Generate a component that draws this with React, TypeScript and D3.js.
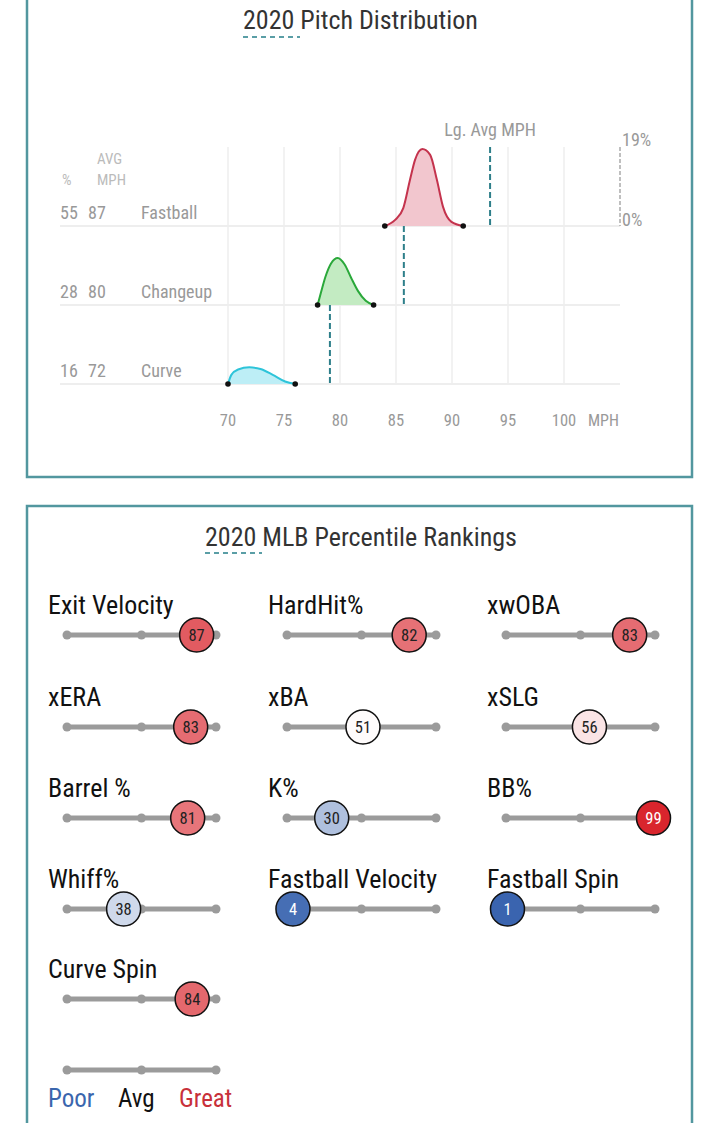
import React from "react";
import * as d3 from "d3";

// ---------- Pitch distribution data ----------
const pitchNames = ["Fastball", "Changeup", "Curve"];
const pitchPct = [55, 28, 16];
const pitchAvgMph = [87, 80, 72];
const lgAvgMph = [93.4, 85.7, 79.1];
const fastballDensity: [number, number][] = [
  [84, 0], [84.9, 1.4], [85.65, 4.3], [86.25, 11.1], [86.7, 15.9], [87.35, 18.5],
  [88.05, 17.1], [88.65, 11.1], [89.2, 4.6], [89.95, 1.0], [91, 0],
];
const changeupDensity: [number, number][] = [
  [78, 0], [78.3, 3], [78.7, 6.8], [79.2, 10], [79.8, 11.3], [80.4, 9.8],
  [81, 6.5], [81.6, 3.4], [82.3, 1], [83, 0],
];
const curveDensity: [number, number][] = [
  [70, 0], [70.3, 2.2], [70.9, 3.5], [71.9, 4.0], [72.9, 3.6], [74, 2.2], [75.1, 0.6], [76, 0],
];
const densities = [fastballDensity, changeupDensity, curveDensity];
const pitchStroke = ["#c4334d", "#2aa83a", "#2ec4d9"];
const pitchFill = ["#f2c6ce", "#c3ebc2", "#bdeef6"];
const mphTicks = [70, 75, 80, 85, 90, 95, 100];
const maxPct = 19;

// ---------- Percentile data ----------
const metricNames = [
  "Exit Velocity", "HardHit%", "xwOBA",
  "xERA", "xBA", "xSLG",
  "Barrel %", "K%", "BB%",
  "Whiff%", "Fastball Velocity", "Fastball Spin",
  "Curve Spin",
];
const metricValues = [87, 82, 83, 83, 51, 56, 81, 30, 99, 38, 4, 1, 84];
const legendLabels = ["Poor", "Avg", "Great"];

const FONT = "'Roboto Condensed', 'Liberation Sans Narrow', 'Arial Narrow', Roboto, sans-serif";

export default function App() {
  const x = d3.scaleLinear().domain([70, 105]).range([228, 620]);
  const baselines = [226, 305, 384];
  const rowH = 79;

  const colStarts = [67, 287, 506];
  const labelX = [48, 268, 487];
  const trackLen = 149;
  const rowTrackY = [635, 727, 818, 909, 999];

  const color = d3
    .scaleLinear<string>()
    .domain([0, 50, 100])
    .range(["#3661ad", "#ffffff", "#d82129"]);

  return (
    <svg
      width={720}
      height={1123}
      style={{ position: "absolute", left: 0, top: 0, background: "#fff" }}
      fontFamily={FONT}
    >
      {/* Panel 1 border */}
      <rect x={27} y={-10} width={665} height={487} fill="none" stroke="#52979f" strokeWidth={2.5} />
      {/* Title 1 */}
      <text x={243} y={29} fontSize={26} fill="#333">2020 Pitch Distribution</text>
      <line x1={243} x2={300} y1={37} y2={37} stroke="#5a9ea6" strokeWidth={2} strokeDasharray="5,4" />

      {/* grid verticals */}
      {mphTicks.map((t) => (
        <line key={"g" + t} x1={x(t)} x2={x(t)} y1={147} y2={385} stroke="#eeeeee" strokeWidth={1.5} />
      ))}
      {/* row baselines */}
      {baselines.map((b, i) => (
        <line key={"b" + i} x1={60} x2={620} y1={b} y2={b} stroke="#eeeeee" strokeWidth={2} />
      ))}

      {/* header */}
      <text x={62} y={185} fontSize={15} fill="#bbbbbb">%</text>
      <text x={97} y={164} fontSize={15} fill="#bbbbbb">AVG</text>
      <text x={97} y={185} fontSize={15} fill="#bbbbbb">MPH</text>

      {pitchNames.map((n, i) => (
        <g key={n} fill="#999999" fontSize={18}>
          <text x={60} y={baselines[i] - 7}>{pitchPct[i]}</text>
          <text x={88} y={baselines[i] - 7}>{pitchAvgMph[i]}</text>
          <text x={141} y={baselines[i] - 7}>{n}</text>
        </g>
      ))}

      {/* densities */}
      {densities.map((d, i) => {
        const y = d3.scaleLinear().domain([0, maxPct]).range([baselines[i], baselines[i] - rowH]);
        const area = d3
          .area<[number, number]>()
          .x((p) => x(p[0]))
          .y0(baselines[i])
          .y1((p) => y(p[1]))
          .curve(d3.curveMonotoneX);
        const line = d3
          .line<[number, number]>()
          .x((p) => x(p[0]))
          .y((p) => y(p[1]))
          .curve(d3.curveMonotoneX);
        const first = d[0];
        const last = d[d.length - 1];
        return (
          <g key={"d" + i}>
            <path d={area(d) || ""} fill={pitchFill[i]} />
            <path d={line(d) || ""} fill="none" stroke={pitchStroke[i]} strokeWidth={2} />
            <circle cx={x(first[0])} cy={y(first[1])} r={2.8} fill="#111" />
            <circle cx={x(last[0])} cy={y(last[1])} r={2.8} fill="#111" />
          </g>
        );
      })}

      {/* league avg lines */}
      {lgAvgMph.map((m, i) => (
        <line
          key={"lg" + i}
          x1={x(m)}
          x2={x(m)}
          y1={baselines[i] - rowH}
          y2={baselines[i]}
          stroke="#2e7f8a"
          strokeWidth={2}
          strokeDasharray="6,3"
        />
      ))}
      <text x={x(lgAvgMph[0])} y={136} fontSize={18} fill="#999999" textAnchor="middle">Lg. Avg MPH</text>

      {/* 19% scale */}
      <line x1={620} x2={620} y1={147} y2={226} stroke="#aaaaaa" strokeWidth={1.5} strokeDasharray="4,2" />
      <text x={622} y={146} fontSize={18} fill="#999999">{maxPct}%</text>
      <text x={622} y={226} fontSize={18} fill="#999999">0%</text>

      {/* x axis labels */}
      {mphTicks.map((t) => (
        <text key={"t" + t} x={x(t)} y={426} fontSize={16.5} fill="#999999" textAnchor="middle">{t}</text>
      ))}
      <text x={588} y={426} fontSize={16} fill="#999999">MPH</text>

      {/* Panel 2 border */}
      <rect x={27} y={506} width={665} height={640} fill="none" stroke="#52979f" strokeWidth={2.5} />
      <text x={205} y={546} fontSize={26} fill="#333">2020 MLB Percentile Rankings</text>
      <line x1={205} x2={262} y1={553} y2={553} stroke="#5a9ea6" strokeWidth={2} strokeDasharray="5,4" />

      {metricNames.map((name, i) => {
        const col = i % 3;
        const row = Math.floor(i / 3);
        const s = d3.scaleLinear().domain([0, 100]).range([colStarts[col], colStarts[col] + trackLen]);
        const ty = rowTrackY[row];
        const v = metricValues[i];
        const fill = color(v);
        const textFill = v <= 15 || v >= 90 ? "#ffffff" : "#222222";
        return (
          <g key={name}>
            <text x={labelX[col]} y={ty - 21} fontSize={26} fill="#111">{name}</text>
            <line x1={s(0)} x2={s(100)} y1={ty} y2={ty} stroke="#9b9b9b" strokeWidth={5} />
            {[0, 50, 100].map((p) => (
              <circle key={p} cx={s(p)} cy={ty} r={4.5} fill="#9b9b9b" />
            ))}
            <circle cx={s(v)} cy={ty} r={17} fill={fill} stroke="#111" strokeWidth={1.5} />
            <text x={s(v)} y={ty + 6} fontSize={16.5} fill={textFill} textAnchor="middle">{v}</text>
          </g>
        );
      })}

      {/* legend */}
      {(() => {
        const s = d3.scaleLinear().domain([0, 100]).range([colStarts[0], colStarts[0] + trackLen]);
        const ly = 1070;
        const lcolors = ["#3a66ad", "#111111", "#c8303a"];
        const lx = [48, 118, 179];
        return (
          <g>
            <line x1={s(0)} x2={s(100)} y1={ly} y2={ly} stroke="#9b9b9b" strokeWidth={5} />
            {[0, 50, 100].map((p) => (
              <circle key={p} cx={s(p)} cy={ly} r={4.5} fill="#9b9b9b" />
            ))}
            {legendLabels.map((l, i) => (
              <text key={l} x={lx[i]} y={1107} fontSize={25} fill={lcolors[i]}>{l}</text>
            ))}
          </g>
        );
      })()}
    </svg>
  );
}
